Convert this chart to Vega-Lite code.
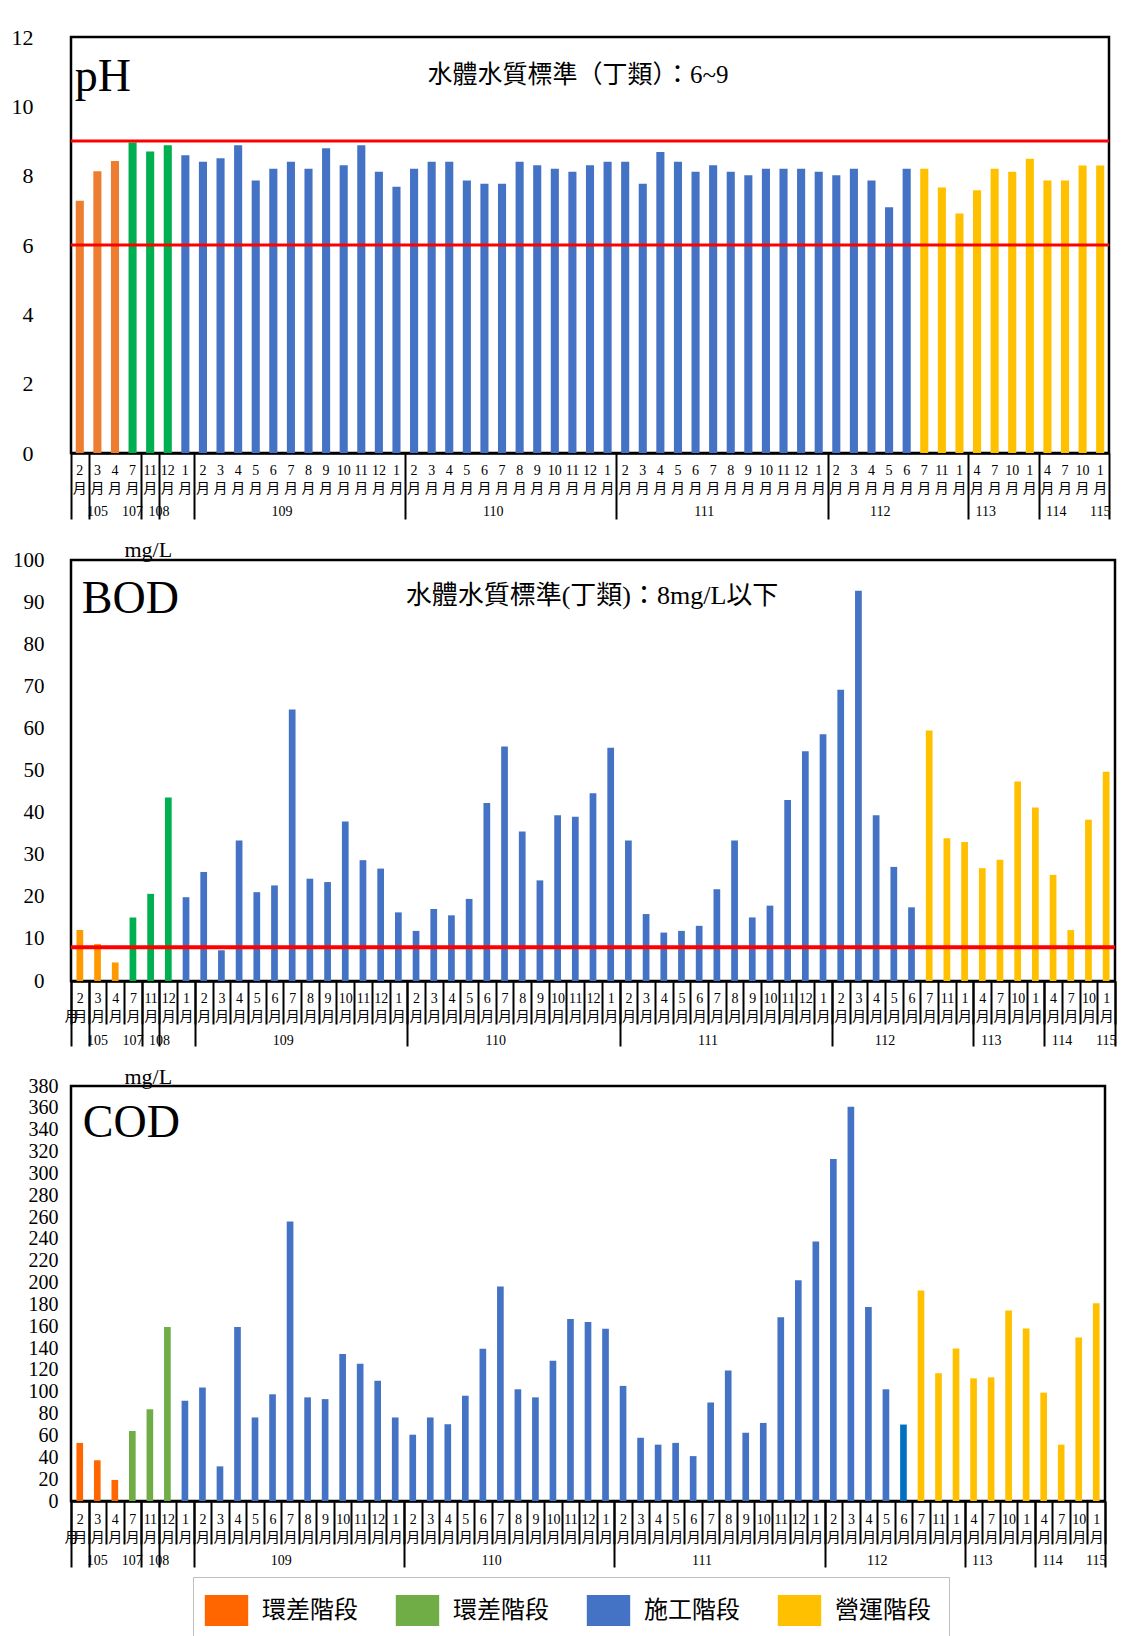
{
  "$schema": "https://vega.github.io/schema/vega-lite/v6.json",
  "padding": {"left": 9, "top": 24, "right": 0, "bottom": 0},
  "background": "white",
  "datasets": {
    "table": [
      {"key": "105-2", "stage": "環差階段1", "ph": 7.28, "bod": 12.1, "cod": 53.2},
      {"key": "105-3", "stage": "環差階段1", "ph": 8.13, "bod": 8.8, "cod": 37.3},
      {"key": "105-4", "stage": "環差階段1", "ph": 8.42, "bod": 4.4, "cod": 19.3},
      {"key": "107-7", "stage": "環差階段2", "ph": 8.96, "bod": 15.1, "cod": 64.1},
      {"key": "108-11", "stage": "環差階段2", "ph": 8.7, "bod": 20.7, "cod": 84.0},
      {"key": "108-12", "stage": "環差階段2", "ph": 8.88, "bod": 43.6, "cod": 159.3},
      {"key": "109-1", "stage": "施工階段", "ph": 8.59, "bod": 19.9, "cod": 91.8},
      {"key": "109-2", "stage": "施工階段", "ph": 8.4, "bod": 25.9, "cod": 103.9},
      {"key": "109-3", "stage": "施工階段", "ph": 8.5, "bod": 7.3, "cod": 31.7},
      {"key": "109-4", "stage": "施工階段", "ph": 8.88, "bod": 33.4, "cod": 159.3},
      {"key": "109-5", "stage": "施工階段", "ph": 7.86, "bod": 21.1, "cod": 76.5},
      {"key": "109-6", "stage": "施工階段", "ph": 8.2, "bod": 22.7, "cod": 97.7},
      {"key": "109-7", "stage": "施工階段", "ph": 8.4, "bod": 64.5, "cod": 256.0},
      {"key": "109-8", "stage": "施工階段", "ph": 8.2, "bod": 24.3, "cod": 94.9},
      {"key": "109-9", "stage": "施工階段", "ph": 8.79, "bod": 23.5, "cod": 93.3},
      {"key": "109-10", "stage": "施工階段", "ph": 8.3, "bod": 37.9, "cod": 134.7},
      {"key": "109-11", "stage": "施工階段", "ph": 8.88, "bod": 28.7, "cod": 125.7},
      {"key": "109-12", "stage": "施工階段", "ph": 8.11, "bod": 26.7, "cod": 110.1},
      {"key": "110-1", "stage": "施工階段", "ph": 7.68, "bod": 16.3, "cod": 76.5},
      {"key": "110-2", "stage": "施工階段", "ph": 8.2, "bod": 11.9, "cod": 60.7},
      {"key": "110-3", "stage": "施工階段", "ph": 8.4, "bod": 17.1, "cod": 76.5},
      {"key": "110-4", "stage": "施工階段", "ph": 8.4, "bod": 15.6, "cod": 70.3},
      {"key": "110-5", "stage": "施工階段", "ph": 7.86, "bod": 19.5, "cod": 96.4},
      {"key": "110-6", "stage": "施工階段", "ph": 7.77, "bod": 42.3, "cod": 139.3},
      {"key": "110-7", "stage": "施工階段", "ph": 7.77, "bod": 55.7, "cod": 196.3},
      {"key": "110-8", "stage": "施工階段", "ph": 8.4, "bod": 35.5, "cod": 102.3},
      {"key": "110-9", "stage": "施工階段", "ph": 8.3, "bod": 23.9, "cod": 94.9},
      {"key": "110-10", "stage": "施工階段", "ph": 8.2, "bod": 39.4, "cod": 128.5},
      {"key": "110-11", "stage": "施工階段", "ph": 8.11, "bod": 39.0, "cod": 166.7},
      {"key": "110-12", "stage": "施工階段", "ph": 8.3, "bod": 44.6, "cod": 163.9},
      {"key": "111-1", "stage": "施工階段", "ph": 8.4, "bod": 55.4, "cod": 157.7},
      {"key": "111-2", "stage": "施工階段", "ph": 8.4, "bod": 33.4, "cod": 105.4},
      {"key": "111-3", "stage": "施工階段", "ph": 7.77, "bod": 15.9, "cod": 57.9},
      {"key": "111-4", "stage": "施工階段", "ph": 8.68, "bod": 11.5, "cod": 51.6},
      {"key": "111-5", "stage": "施工階段", "ph": 8.4, "bod": 11.9, "cod": 53.2},
      {"key": "111-6", "stage": "施工階段", "ph": 8.11, "bod": 13.1, "cod": 41.1},
      {"key": "111-7", "stage": "施工階段", "ph": 8.3, "bod": 21.8, "cod": 90.2},
      {"key": "111-8", "stage": "施工階段", "ph": 8.11, "bod": 33.4, "cod": 119.4},
      {"key": "111-9", "stage": "施工階段", "ph": 8.01, "bod": 15.1, "cod": 62.5},
      {"key": "111-10", "stage": "施工階段", "ph": 8.2, "bod": 17.9, "cod": 71.5},
      {"key": "111-11", "stage": "施工階段", "ph": 8.2, "bod": 43.0, "cod": 168.3},
      {"key": "111-12", "stage": "施工階段", "ph": 8.2, "bod": 54.6, "cod": 202.2},
      {"key": "112-1", "stage": "施工階段", "ph": 8.11, "bod": 58.6, "cod": 237.6},
      {"key": "112-2", "stage": "施工階段", "ph": 8.01, "bod": 69.2, "cod": 313.2},
      {"key": "112-3", "stage": "施工階段", "ph": 8.2, "bod": 92.7, "cod": 361.1},
      {"key": "112-4", "stage": "施工階段", "ph": 7.86, "bod": 39.4, "cod": 177.6},
      {"key": "112-5", "stage": "施工階段", "ph": 7.09, "bod": 27.1, "cod": 102.3},
      {"key": "112-6", "stage": "施工階段", "ph": 8.2, "bod": 17.5, "cod": 70.0},
      {"key": "112-7", "stage": "營運階段", "ph": 8.2, "bod": 59.5, "cod": 192.8},
      {"key": "112-11", "stage": "營運階段", "ph": 7.66, "bod": 33.9, "cod": 117.0},
      {"key": "113-1", "stage": "營運階段", "ph": 6.91, "bod": 33.0, "cod": 139.7},
      {"key": "113-4", "stage": "營運階段", "ph": 7.58, "bod": 26.8, "cod": 112.3},
      {"key": "113-7", "stage": "營運階段", "ph": 8.2, "bod": 28.8, "cod": 113.2},
      {"key": "113-10", "stage": "營運階段", "ph": 8.11, "bod": 47.4, "cod": 174.5},
      {"key": "114-1", "stage": "營運階段", "ph": 8.49, "bod": 41.2, "cod": 158.0},
      {"key": "114-4", "stage": "營運階段", "ph": 7.86, "bod": 25.2, "cod": 99.2},
      {"key": "114-7", "stage": "營運階段", "ph": 7.86, "bod": 12.1, "cod": 51.6},
      {"key": "114-10", "stage": "營運階段", "ph": 8.29, "bod": 38.3, "cod": 149.6},
      {"key": "115-1", "stage": "營運階段", "ph": 8.29, "bod": 49.7, "cod": 181.0}
    ]
  },
  "spacing": 14,
  "resolve": {"scale": {"color": "independent"}, "legend": {"color": "independent"}},
  "vconcat": [
    {
      "width": 1038,
      "height": 416,
      "data": {"name": "table"},
      "resolve": {"axis": {"x": "independent"}},
      "layer": [
        {
          "mark": {"type": "bar", "width": {"band": 0.46}},
          "encoding": {
            "x": {"field": "key", "type": "nominal", "sort": null,
              "scale": {"paddingInner": 0, "paddingOuter": 0},
              "axis": {"title": null, "orient": "bottom", "labelExpr": "[split(datum.value,'-')[1], '月']", "labelAngle": 0, "labelFont": "Liberation Serif, Noto Sans CJK TC", "labelFontSize": 14, "labelLineHeight": 18, "labelBaseline": "top", "labelPadding": 10, "ticks": false, "domainColor": "#000", "domainWidth": 2.5, "labelColor": "#000", "labelOverlap": false, "labelBound": false, "labelFlush": false}},
            "y": {"field": "ph", "type": "quantitative", "scale": {"domain": [0, 12], "nice": false},
              "axis": {"title": null, "values": [0, 2, 4, 6, 8, 10, 12], "grid": false, "domain": false, "ticks": false, "labelFont": "Liberation Serif", "labelFontSize": 22, "labelPadding": 38, "labelColor": "#000", "labelOverlap": false, "minExtent": 60}},
            "color": {"field": "stage", "type": "nominal", "legend": null,
              "scale": {"domain": ["環差階段1", "環差階段2", "施工階段", "營運階段"], "range": ["#ED7D31", "#00B050", "#4472C4", "#FFC000"]}}
          }
        },
        {
          "data": {"values": [{"limit": 6}, {"limit": 9}]},
          "mark": {"type": "rule", "color": "#FF0000", "strokeWidth": 3},
          "encoding": {"y": {"field": "limit", "type": "quantitative",
            "axis": {"title": null, "values": [0, 2, 4, 6, 8, 10, 12], "grid": false, "domain": false, "ticks": false, "labelFont": "Liberation Serif", "labelFontSize": 22, "labelPadding": 38, "labelColor": "#000", "labelOverlap": false, "minExtent": 60}}}
        },
        {
          "mark": {"type": "bar", "opacity": 0},
          "encoding": {
            "x": {"field": "key", "type": "nominal", "sort": null,
              "axis": {"orient": "bottom", "title": null, "values": ["105-2", "107-7", "108-11", "109-1", "110-1", "111-1", "112-1", "113-1", "114-1", "115-1"], "labels": false, "domain": false, "tickBand": "extent", "tickSize": 66, "tickWidth": 2, "tickColor": "#000"}},
            "y": {"field": "ph", "type": "quantitative",
              "axis": {"title": null, "values": [0, 2, 4, 6, 8, 10, 12], "grid": false, "domain": false, "ticks": false, "labelFont": "Liberation Serif", "labelFontSize": 22, "labelPadding": 38, "labelColor": "#000", "labelOverlap": false, "minExtent": 60}}
          }
        },
        {
          "mark": {"type": "bar", "opacity": 0},
          "encoding": {
            "x": {"field": "key", "type": "nominal", "sort": null,
              "axis": {"orient": "bottom", "title": null, "values": ["105-3", "107-7", "115-1"], "labelExpr": "split(datum.value,'-')[0]", "ticks": false, "domain": false, "labelAngle": 0, "labelPadding": 58, "labelBaseline": "middle", "labelFont": "Liberation Serif", "labelFontSize": 14, "labelColor": "#000", "labelOverlap": false, "labelBound": false, "labelFlush": false}},
            "y": {"field": "ph", "type": "quantitative",
              "axis": {"title": null, "values": [0, 2, 4, 6, 8, 10, 12], "grid": false, "domain": false, "ticks": false, "labelFont": "Liberation Serif", "labelFontSize": 22, "labelPadding": 38, "labelColor": "#000", "labelOverlap": false, "minExtent": 60}}
          }
        },
        {
          "mark": {"type": "bar", "opacity": 0},
          "encoding": {
            "x": {"field": "key", "type": "nominal", "sort": null,
              "axis": {"orient": "bottom", "title": null, "values": ["108-12", "109-7", "110-7", "111-7", "112-5", "113-7", "114-7"], "labelExpr": "split(datum.value,'-')[0]", "labelOffset": -8.8, "ticks": false, "domain": false, "labelAngle": 0, "labelPadding": 58, "labelBaseline": "middle", "labelFont": "Liberation Serif", "labelFontSize": 14, "labelColor": "#000", "labelOverlap": false, "labelBound": false, "labelFlush": false}},
            "y": {"field": "ph", "type": "quantitative",
              "axis": {"title": null, "values": [0, 2, 4, 6, 8, 10, 12], "grid": false, "domain": false, "ticks": false, "labelFont": "Liberation Serif", "labelFontSize": 22, "labelPadding": 38, "labelColor": "#000", "labelOverlap": false, "minExtent": 60}}
          }
        },
        {
          "mark": {"type": "text", "align": "left", "baseline": "alphabetic", "font": "Liberation Serif", "fontSize": 46, "color": "#000", "dx": -5},
          "encoding": {
            "x": {"field": "key", "type": "nominal", "sort": null, "axis": null},
            "y": {"datum": 10.45, "type": "quantitative",
              "axis": {"title": null, "values": [0, 2, 4, 6, 8, 10, 12], "grid": false, "domain": false, "ticks": false, "labelFont": "Liberation Serif", "labelFontSize": 22, "labelPadding": 38, "labelColor": "#000", "labelOverlap": false, "minExtent": 60}},
            "text": {"condition": {"test": "datum.key === '105-2'", "value": "pH"}, "value": ""}
          }
        },
        {
          "mark": {"type": "text", "align": "center", "baseline": "middle", "font": "Liberation Serif, Noto Sans CJK TC", "fontSize": 25, "color": "#000", "dx": -12},
          "encoding": {
            "x": {"field": "key", "type": "nominal", "sort": null, "axis": null},
            "y": {"datum": 10.9, "type": "quantitative",
              "axis": {"title": null, "values": [0, 2, 4, 6, 8, 10, 12], "grid": false, "domain": false, "ticks": false, "labelFont": "Liberation Serif", "labelFontSize": 22, "labelPadding": 38, "labelColor": "#000", "labelOverlap": false, "minExtent": 60}},
            "text": {"condition": {"test": "datum.key === '110-12'", "value": "水體水質標準（丁類）：6~9"}, "value": ""}
          }
        }
      ]
    },
    {
      "width": 1044,
      "height": 421,
      "data": {"name": "table"},
      "resolve": {"axis": {"x": "independent"}},
      "layer": [
        {
          "mark": {"type": "bar", "width": {"band": 0.38}},
          "encoding": {
            "x": {"field": "key", "type": "nominal", "sort": null,
              "scale": {"paddingInner": 0, "paddingOuter": 0},
              "axis": {"title": null, "orient": "bottom", "labelExpr": "[split(datum.value,'-')[1], '月']", "labelAngle": 0, "labelFont": "Liberation Serif, Noto Sans CJK TC", "labelFontSize": 14, "labelLineHeight": 18, "labelBaseline": "top", "labelPadding": -33, "ticks": true, "tickBand": "extent", "tickSize": 43, "tickWidth": 2, "tickColor": "#000", "domainColor": "#000", "domainWidth": 2.5, "labelColor": "#000", "labelOverlap": false, "labelBound": false, "labelFlush": false}},
            "y": {"field": "bod", "type": "quantitative", "scale": {"domain": [0, 100], "nice": false},
              "axis": {"title": "mg/L", "titleAngle": 0, "titleX": 53, "titleY": -11, "titleAlign": "left", "titleBaseline": "middle", "titleFont": "Liberation Serif", "titleFontSize": 22, "titleFontWeight": "normal", "titleColor": "#000",
                "values": [0, 10, 20, 30, 40, 50, 60, 70, 80, 90, 100], "grid": false, "domain": false, "ticks": false, "labelFont": "Liberation Serif", "labelFontSize": 21, "labelPadding": 27, "labelColor": "#000", "labelOverlap": false, "minExtent": 60}},
            "color": {"field": "stage", "type": "nominal", "legend": null,
              "scale": {"domain": ["環差階段1", "環差階段2", "施工階段", "營運階段"], "range": ["#FF9900", "#00B050", "#4472C4", "#FFC000"]}}
          }
        },
        {
          "data": {"values": [{"limit": 8}]},
          "mark": {"type": "rule", "color": "#FF0000", "strokeWidth": 4},
          "encoding": {"y": {"field": "limit", "type": "quantitative",
            "axis": {"title": "mg/L", "titleAngle": 0, "titleX": 53, "titleY": -11, "titleAlign": "left", "titleBaseline": "middle", "titleFont": "Liberation Serif", "titleFontSize": 22, "titleFontWeight": "normal", "titleColor": "#000",
              "values": [0, 10, 20, 30, 40, 50, 60, 70, 80, 90, 100], "grid": false, "domain": false, "ticks": false, "labelFont": "Liberation Serif", "labelFontSize": 21, "labelPadding": 27, "labelColor": "#000", "labelOverlap": false, "minExtent": 60}}}
        },
        {
          "mark": {"type": "bar", "opacity": 0},
          "encoding": {
            "x": {"field": "key", "type": "nominal", "sort": null,
              "axis": {"orient": "bottom", "title": null, "values": ["105-2", "107-7", "108-11", "109-1", "110-1", "111-1", "112-1", "113-1", "114-1", "115-1"], "labels": false, "domain": false, "tickBand": "extent", "tickSize": 65, "tickWidth": 2, "tickColor": "#000"}},
            "y": {"field": "bod", "type": "quantitative",
              "axis": {"title": "mg/L", "titleAngle": 0, "titleX": 53, "titleY": -11, "titleAlign": "left", "titleBaseline": "middle", "titleFont": "Liberation Serif", "titleFontSize": 22, "titleFontWeight": "normal", "titleColor": "#000",
                "values": [0, 10, 20, 30, 40, 50, 60, 70, 80, 90, 100], "grid": false, "domain": false, "ticks": false, "labelFont": "Liberation Serif", "labelFontSize": 21, "labelPadding": 27, "labelColor": "#000", "labelOverlap": false, "minExtent": 60}}
          }
        },
        {
          "mark": {"type": "bar", "opacity": 0},
          "encoding": {
            "x": {"field": "key", "type": "nominal", "sort": null,
              "axis": {"orient": "bottom", "title": null, "values": ["105-3", "107-7", "115-1"], "labelExpr": "split(datum.value,'-')[0]", "ticks": false, "domain": false, "labelAngle": 0, "labelPadding": 59, "labelBaseline": "middle", "labelFont": "Liberation Serif", "labelFontSize": 14, "labelColor": "#000", "labelOverlap": false, "labelBound": false, "labelFlush": false}},
            "y": {"field": "bod", "type": "quantitative",
              "axis": {"title": "mg/L", "titleAngle": 0, "titleX": 53, "titleY": -11, "titleAlign": "left", "titleBaseline": "middle", "titleFont": "Liberation Serif", "titleFontSize": 22, "titleFontWeight": "normal", "titleColor": "#000",
                "values": [0, 10, 20, 30, 40, 50, 60, 70, 80, 90, 100], "grid": false, "domain": false, "ticks": false, "labelFont": "Liberation Serif", "labelFontSize": 21, "labelPadding": 27, "labelColor": "#000", "labelOverlap": false, "minExtent": 60}}
          }
        },
        {
          "mark": {"type": "bar", "opacity": 0},
          "encoding": {
            "x": {"field": "key", "type": "nominal", "sort": null,
              "axis": {"orient": "bottom", "title": null, "values": ["108-12", "109-7", "110-7", "111-7", "112-5", "113-7", "114-7"], "labelExpr": "split(datum.value,'-')[0]", "labelOffset": -8.85, "ticks": false, "domain": false, "labelAngle": 0, "labelPadding": 59, "labelBaseline": "middle", "labelFont": "Liberation Serif", "labelFontSize": 14, "labelColor": "#000", "labelOverlap": false, "labelBound": false, "labelFlush": false}},
            "y": {"field": "bod", "type": "quantitative",
              "axis": {"title": "mg/L", "titleAngle": 0, "titleX": 53, "titleY": -11, "titleAlign": "left", "titleBaseline": "middle", "titleFont": "Liberation Serif", "titleFontSize": 22, "titleFontWeight": "normal", "titleColor": "#000",
                "values": [0, 10, 20, 30, 40, 50, 60, 70, 80, 90, 100], "grid": false, "domain": false, "ticks": false, "labelFont": "Liberation Serif", "labelFontSize": 21, "labelPadding": 27, "labelColor": "#000", "labelOverlap": false, "minExtent": 60}}
          }
        },
        {
          "mark": {"type": "text", "align": "left", "baseline": "alphabetic", "font": "Liberation Serif", "fontSize": 46, "color": "#000", "dx": 2},
          "encoding": {
            "x": {"field": "key", "type": "nominal", "sort": null, "axis": null},
            "y": {"datum": 87.3, "type": "quantitative",
              "axis": {"title": "mg/L", "titleAngle": 0, "titleX": 53, "titleY": -11, "titleAlign": "left", "titleBaseline": "middle", "titleFont": "Liberation Serif", "titleFontSize": 22, "titleFontWeight": "normal", "titleColor": "#000",
                "values": [0, 10, 20, 30, 40, 50, 60, 70, 80, 90, 100], "grid": false, "domain": false, "ticks": false, "labelFont": "Liberation Serif", "labelFontSize": 21, "labelPadding": 27, "labelColor": "#000", "labelOverlap": false, "minExtent": 60}},
            "text": {"condition": {"test": "datum.key === '105-2'", "value": "BOD"}, "value": ""}
          }
        },
        {
          "mark": {"type": "text", "align": "center", "baseline": "middle", "font": "Liberation Serif, Noto Sans CJK TC", "fontSize": 26, "color": "#000", "dx": -1},
          "encoding": {
            "x": {"field": "key", "type": "nominal", "sort": null, "axis": null},
            "y": {"datum": 91.4, "type": "quantitative",
              "axis": {"title": "mg/L", "titleAngle": 0, "titleX": 53, "titleY": -11, "titleAlign": "left", "titleBaseline": "middle", "titleFont": "Liberation Serif", "titleFontSize": 22, "titleFontWeight": "normal", "titleColor": "#000",
                "values": [0, 10, 20, 30, 40, 50, 60, 70, 80, 90, 100], "grid": false, "domain": false, "ticks": false, "labelFont": "Liberation Serif", "labelFontSize": 21, "labelPadding": 27, "labelColor": "#000", "labelOverlap": false, "minExtent": 60}},
            "text": {"condition": {"test": "datum.key === '110-12'", "value": "水體水質標準(丁類)：8mg/L以下"}, "value": ""}
          }
        }
      ]
    },
    {
      "width": 1034,
      "height": 415,
      "data": {"name": "table"},
      "resolve": {"axis": {"x": "independent"}},
      "layer": [
        {
          "mark": {"type": "bar", "width": {"band": 0.38}},
          "encoding": {
            "x": {"field": "key", "type": "nominal", "sort": null,
              "scale": {"paddingInner": 0, "paddingOuter": 0},
              "axis": {"title": null, "orient": "bottom", "labelExpr": "[split(datum.value,'-')[1], '月']", "labelAngle": 0, "labelFont": "Liberation Serif, Noto Sans CJK TC", "labelFontSize": 14, "labelLineHeight": 18, "labelBaseline": "top", "labelPadding": -32, "ticks": true, "tickBand": "extent", "tickSize": 43, "tickWidth": 2, "tickColor": "#000", "domainColor": "#000", "domainWidth": 2.5, "labelColor": "#000", "labelOverlap": false, "labelBound": false, "labelFlush": false}},
            "y": {"field": "cod", "type": "quantitative", "scale": {"domain": [0, 380], "nice": false},
              "axis": {"title": "mg/L", "titleAngle": 0, "titleX": 53, "titleY": -10, "titleAlign": "left", "titleBaseline": "middle", "titleFont": "Liberation Serif", "titleFontSize": 22, "titleFontWeight": "normal", "titleColor": "#000",
                "values": [0, 20, 40, 60, 80, 100, 120, 140, 160, 180, 200, 220, 240, 260, 280, 300, 320, 340, 360, 380], "grid": false, "domain": false, "ticks": false, "labelFont": "Liberation Serif", "labelFontSize": 20, "labelPadding": 13, "labelColor": "#000", "labelOverlap": false, "minExtent": 60}},
            "color": {"condition": {"test": "datum.key === '112-6'", "value": "#0070C0"}, "field": "stage", "type": "nominal",
              "scale": {"domain": ["環差階段1", "環差階段2", "施工階段", "營運階段"], "range": ["#FF6600", "#70AD47", "#4472C4", "#FFC000"]},
              "legend": {"orient": "none", "legendX": 122, "legendY": 491, "direction": "horizontal", "columns": 4, "title": null,
                "labelExpr": "slice(datum.label, 0, 4)", "symbolType": "M-1.4,-1H1.4V1H-1.4Z", "symbolSize": 961, "symbolStrokeWidth": 0,
                "labelFont": "Noto Sans CJK TC", "labelFontSize": 24, "labelColor": "#000", "labelOffset": 20, "columnPadding": 37,
                "padding": 18, "strokeColor": "#BFBFBF", "fillColor": "white"}}
          }
        },
        {
          "mark": {"type": "bar", "opacity": 0},
          "encoding": {
            "x": {"field": "key", "type": "nominal", "sort": null,
              "axis": {"orient": "bottom", "title": null, "values": ["105-2", "107-7", "108-11", "109-1", "110-1", "111-1", "112-1", "113-1", "114-1", "115-1"], "labels": false, "domain": false, "tickBand": "extent", "tickSize": 66, "tickWidth": 2, "tickColor": "#000"}},
            "y": {"field": "cod", "type": "quantitative",
              "axis": {"title": "mg/L", "titleAngle": 0, "titleX": 53, "titleY": -10, "titleAlign": "left", "titleBaseline": "middle", "titleFont": "Liberation Serif", "titleFontSize": 22, "titleFontWeight": "normal", "titleColor": "#000",
                "values": [0, 20, 40, 60, 80, 100, 120, 140, 160, 180, 200, 220, 240, 260, 280, 300, 320, 340, 360, 380], "grid": false, "domain": false, "ticks": false, "labelFont": "Liberation Serif", "labelFontSize": 20, "labelPadding": 13, "labelColor": "#000", "labelOverlap": false, "minExtent": 60}}
          }
        },
        {
          "mark": {"type": "bar", "opacity": 0},
          "encoding": {
            "x": {"field": "key", "type": "nominal", "sort": null,
              "axis": {"orient": "bottom", "title": null, "values": ["105-3", "107-7", "115-1"], "labelExpr": "split(datum.value,'-')[0]", "ticks": false, "domain": false, "labelAngle": 0, "labelPadding": 59, "labelBaseline": "middle", "labelFont": "Liberation Serif", "labelFontSize": 14, "labelColor": "#000", "labelOverlap": false, "labelBound": false, "labelFlush": false}},
            "y": {"field": "cod", "type": "quantitative",
              "axis": {"title": "mg/L", "titleAngle": 0, "titleX": 53, "titleY": -10, "titleAlign": "left", "titleBaseline": "middle", "titleFont": "Liberation Serif", "titleFontSize": 22, "titleFontWeight": "normal", "titleColor": "#000",
                "values": [0, 20, 40, 60, 80, 100, 120, 140, 160, 180, 200, 220, 240, 260, 280, 300, 320, 340, 360, 380], "grid": false, "domain": false, "ticks": false, "labelFont": "Liberation Serif", "labelFontSize": 20, "labelPadding": 13, "labelColor": "#000", "labelOverlap": false, "minExtent": 60}}
          }
        },
        {
          "mark": {"type": "bar", "opacity": 0},
          "encoding": {
            "x": {"field": "key", "type": "nominal", "sort": null,
              "axis": {"orient": "bottom", "title": null, "values": ["108-12", "109-7", "110-7", "111-7", "112-5", "113-7", "114-7"], "labelExpr": "split(datum.value,'-')[0]", "labelOffset": -8.76, "ticks": false, "domain": false, "labelAngle": 0, "labelPadding": 59, "labelBaseline": "middle", "labelFont": "Liberation Serif", "labelFontSize": 14, "labelColor": "#000", "labelOverlap": false, "labelBound": false, "labelFlush": false}},
            "y": {"field": "cod", "type": "quantitative",
              "axis": {"title": "mg/L", "titleAngle": 0, "titleX": 53, "titleY": -10, "titleAlign": "left", "titleBaseline": "middle", "titleFont": "Liberation Serif", "titleFontSize": 22, "titleFontWeight": "normal", "titleColor": "#000",
                "values": [0, 20, 40, 60, 80, 100, 120, 140, 160, 180, 200, 220, 240, 260, 280, 300, 320, 340, 360, 380], "grid": false, "domain": false, "ticks": false, "labelFont": "Liberation Serif", "labelFontSize": 20, "labelPadding": 13, "labelColor": "#000", "labelOverlap": false, "minExtent": 60}}
          }
        },
        {
          "mark": {"type": "text", "align": "left", "baseline": "alphabetic", "font": "Liberation Serif", "fontSize": 46, "color": "#000", "dx": 3},
          "encoding": {
            "x": {"field": "key", "type": "nominal", "sort": null, "axis": null},
            "y": {"datum": 333, "type": "quantitative",
              "axis": {"title": "mg/L", "titleAngle": 0, "titleX": 53, "titleY": -10, "titleAlign": "left", "titleBaseline": "middle", "titleFont": "Liberation Serif", "titleFontSize": 22, "titleFontWeight": "normal", "titleColor": "#000",
                "values": [0, 20, 40, 60, 80, 100, 120, 140, 160, 180, 200, 220, 240, 260, 280, 300, 320, 340, 360, 380], "grid": false, "domain": false, "ticks": false, "labelFont": "Liberation Serif", "labelFontSize": 20, "labelPadding": 13, "labelColor": "#000", "labelOverlap": false, "minExtent": 60}},
            "text": {"condition": {"test": "datum.key === '105-2'", "value": "COD"}, "value": ""}
          }
        }
      ]
    }
  ],
  "config": {
    "view": {"stroke": "#000", "strokeWidth": 2.5},
    "font": "Liberation Serif",
    "axisY": {"labelOverlap": false, "labelFont": "Liberation Serif"}
  }
}
